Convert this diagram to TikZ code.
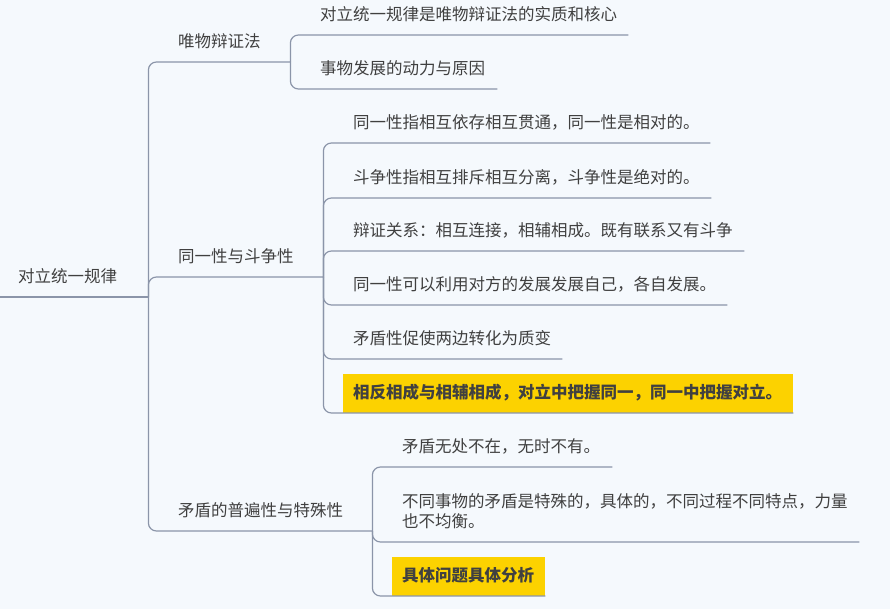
\documentclass[tikz,border=0pt]{standalone}
\usepackage{fontspec}
\setmainfont{Noto Sans CJK SC}
\definecolor{bg}{HTML}{F5F9FD}
\definecolor{lc}{HTML}{8B95A9}
\definecolor{txt}{HTML}{404040}
\definecolor{hly}{HTML}{FCD200}
\newcommand\tb[2]{\parbox[b]{#1}{#2}}
\begin{document}
\begin{tikzpicture}[x=1pt,y=-1pt,
  every node/.style={font=\fontsize{16.5pt}{20pt}\selectfont, text=txt},
  item/.style={anchor=south west, inner xsep=10pt, inner ysep=10pt, text height=13pt, text depth=4pt},
  hl/.style={item, fill=hly, font=\fontsize{16.5pt}{20pt}\selectfont\bfseries, text height=15pt},
  conn/.style={draw=lc, line width=1.2pt, rounded corners=8pt}]
\fill[bg] (0,0) rectangle (890,609);
\useasboundingbox (0,0) rectangle (890,609);
% nodes
\node[item, inner xsep=18pt] (root) at (0,297) {\tb{112pt}{对立统一规律}};
\node[item] (a) at (168,62) {\tb{102pt}{唯物辩证法}};
\node[item] (b) at (168,277) {\tb{135pt}{同一性与斗争性}};
\node[item] (c) at (168,531) {\tb{184pt}{矛盾的普遍性与特殊性}};
\node[item] (a1) at (310,35) {\tb{298pt}{对立统一规律是唯物辩证法的实质和核心}};
\node[item] (a2) at (310,89) {\tb{167pt}{事物发展的动力与原因}};
\node[item] (b1) at (343,143) {\tb{347pt}{同一性指相互依存相互贯通，同一性是相对的。}};
\node[item] (b2) at (343,198) {\tb{348pt}{斗争性指相互排斥相互分离，斗争性是绝对的。}};
\node[item] (b3) at (343,251) {\tb{381pt}{辩证关系：相互连接，相辅相成。既有联系又有斗争}};
\node[item] (b4) at (343,305) {\tb{364pt}{同一性可以利用对方的发展发展自己，各自发展。}};
\node[item] (b5) at (343,359) {\tb{199pt}{矛盾性促使两边转化为质变}};
\node[hl] (b6) at (343,413) {\tb{430pt}{相反相成与相辅相成，对立中把握同一，同一中把握对立。}};
\node[item] (c1) at (392,467) {\tb{200pt}{矛盾无处不在，无时不有。}};
\node[item, text height=33pt] (c2) at (392,542) {\tb{447pt}{不同事物的矛盾是特殊的，具体的，不同过程不同特点，力量\\也不均衡。}};
\node[hl] (c3) at (392,596) {\tb{133pt}{具体问题具体分析}};
% connectors
\draw[conn] (root.south west) -- (root.south east);
\foreach \ch in {a,b,c} \draw[conn] (root.south east) |- (\ch.south west) -- (\ch.south east);
\foreach \ch in {a1,a2} \draw[conn] (a.south east) |- (\ch.south west) -- (\ch.south east);
\foreach \ch in {b1,b2,b3,b4,b5,b6} \draw[conn] (b.south east) |- (\ch.south west) -- (\ch.south east);
\foreach \ch in {c1,c2,c3} \draw[conn] (c.south east) |- (\ch.south west) -- (\ch.south east);
\end{tikzpicture}
\end{document}
